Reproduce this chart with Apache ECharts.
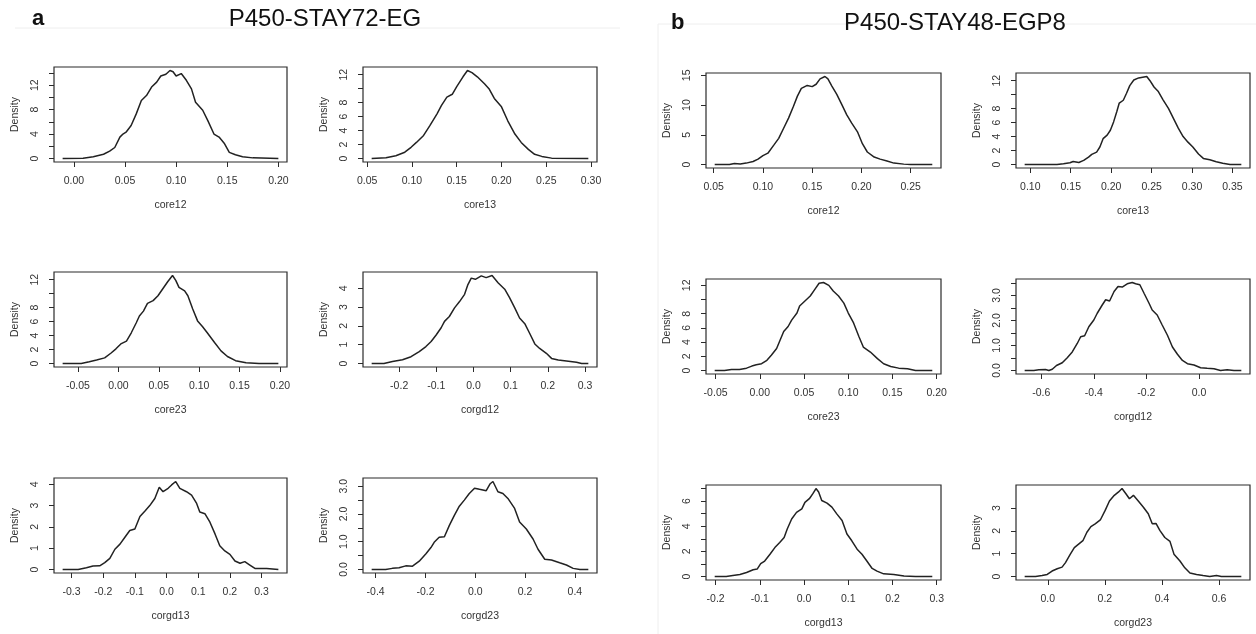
<!DOCTYPE html>
<html><head><meta charset="utf-8">
<script src="https://cdn.jsdelivr.net/npm/echarts@6/dist/echarts.min.js"></script>
<style>html,body{margin:0;padding:0;background:#fff}#c{width:1256px;height:634px}</style>
</head><body><div id="c"></div>
<script>
// ---------- DATA ----------
const panelTitles = ["P450-STAY72-EG", "P450-STAY48-EGP8"];
const panelLetters = ["a", "b"];
const variableNames = ["core12", "core13", "core23", "corgd12", "corgd13", "corgd23"];

// Panel a: P450-STAY72-EG
const aCore12 = [[-0.011,0],[0.009,0.05],[0.019,0.3],[0.029,0.7],[0.035,1.2],[0.040,1.8],[0.045,3.5],[0.048,4.0],[0.051,4.3],[0.056,5.4],[0.061,7.3],[0.066,9.5],[0.071,10.3],[0.076,11.7],[0.081,12.5],[0.085,13.5],[0.090,13.8],[0.094,14.4],[0.097,14.2],[0.100,13.5],[0.105,13.9],[0.110,12.8],[0.115,11.4],[0.119,9.2],[0.126,7.9],[0.131,6.2],[0.137,4.0],[0.142,3.5],[0.147,2.5],[0.152,1.0],[0.158,0.6],[0.165,0.3],[0.175,0.1],[0.200,0]];
const aCore13 = [[0.055,0],[0.071,0.1],[0.082,0.4],[0.092,0.9],[0.099,1.6],[0.105,2.3],[0.113,3.3],[0.120,4.7],[0.128,6.4],[0.133,7.6],[0.139,8.8],[0.145,9.2],[0.150,10.3],[0.157,11.7],[0.162,12.6],[0.167,12.3],[0.173,11.7],[0.181,10.7],[0.186,10.0],[0.192,8.6],[0.200,7.4],[0.207,5.4],[0.215,3.5],[0.222,2.3],[0.230,1.3],[0.237,0.6],[0.245,0.3],[0.256,0.05],[0.297,0]];
const aCore23 = [[-0.069,0],[-0.046,0],[-0.036,0.25],[-0.027,0.5],[-0.017,0.8],[-0.009,1.5],[-0.003,2.1],[0.003,2.8],[0.010,3.2],[0.016,4.4],[0.022,5.8],[0.026,6.8],[0.031,7.5],[0.036,8.6],[0.043,9.0],[0.049,9.7],[0.055,10.7],[0.061,11.7],[0.067,12.6],[0.071,11.9],[0.075,10.9],[0.082,10.4],[0.086,9.7],[0.092,7.8],[0.098,6.1],[0.104,5.3],[0.110,4.4],[0.119,3.0],[0.127,1.8],[0.135,1.0],[0.145,0.4],[0.158,0.1],[0.174,0],[0.198,0]];
const aCorgd12 = [[-0.274,0],[-0.241,0],[-0.218,0.1],[-0.191,0.2],[-0.168,0.36],[-0.146,0.63],[-0.128,0.9],[-0.114,1.17],[-0.101,1.5],[-0.087,1.9],[-0.078,2.24],[-0.065,2.5],[-0.051,2.96],[-0.038,3.28],[-0.024,3.68],[-0.015,4.2],[-0.006,4.54],[0.005,4.48],[0.021,4.66],[0.034,4.57],[0.050,4.68],[0.066,4.3],[0.084,3.95],[0.097,3.5],[0.111,2.96],[0.124,2.42],[0.138,2.12],[0.151,1.61],[0.165,1.04],[0.178,0.8],[0.196,0.54],[0.210,0.27],[0.228,0.18],[0.250,0.13],[0.277,0.07],[0.291,0],[0.309,0]];
const aCorgd13 = [[-0.328,0],[-0.279,0],[-0.253,0.08],[-0.232,0.16],[-0.211,0.17],[-0.195,0.32],[-0.179,0.52],[-0.163,0.95],[-0.147,1.19],[-0.132,1.5],[-0.116,1.83],[-0.100,1.9],[-0.084,2.49],[-0.068,2.75],[-0.053,3.0],[-0.037,3.33],[-0.023,3.86],[-0.011,3.65],[0.005,3.81],[0.016,3.97],[0.029,4.13],[0.042,3.81],[0.063,3.65],[0.079,3.49],[0.095,3.1],[0.105,2.7],[0.121,2.62],[0.137,2.22],[0.153,1.67],[0.168,1.11],[0.184,0.87],[0.200,0.71],[0.216,0.4],[0.232,0.29],[0.247,0.37],[0.263,0.21],[0.279,0.05],[0.316,0.05],[0.353,0]];
const aCorgd23 = [[-0.416,0],[-0.360,0],[-0.333,0.04],[-0.306,0.06],[-0.279,0.13],[-0.252,0.12],[-0.225,0.3],[-0.198,0.57],[-0.178,0.79],[-0.165,0.98],[-0.145,1.16],[-0.124,1.18],[-0.104,1.59],[-0.084,1.95],[-0.064,2.28],[-0.044,2.5],[-0.024,2.74],[-0.003,2.93],[0.017,2.89],[0.044,2.84],[0.060,3.09],[0.071,3.17],[0.091,2.8],[0.111,2.74],[0.131,2.56],[0.158,2.2],[0.178,1.71],[0.205,1.46],[0.232,1.1],[0.252,0.73],[0.279,0.37],[0.306,0.34],[0.339,0.24],[0.366,0.16],[0.393,0.04],[0.420,0],[0.454,0]];

// Panel b: P450-STAY48-EGP8
const bCore12 = [[0.051,0],[0.066,0],[0.071,0.17],[0.077,0.1],[0.083,0.23],[0.090,0.5],[0.095,0.9],[0.100,1.5],[0.105,1.9],[0.111,3.25],[0.116,4.4],[0.121,6.1],[0.126,7.8],[0.131,9.8],[0.135,11.5],[0.139,12.8],[0.145,13.3],[0.150,13.1],[0.154,13.5],[0.158,14.4],[0.163,14.8],[0.166,14.4],[0.170,13.2],[0.175,11.8],[0.180,10.1],[0.185,8.4],[0.190,7.0],[0.196,5.5],[0.201,3.5],[0.206,2.1],[0.213,1.25],[0.219,0.9],[0.226,0.57],[0.233,0.23],[0.243,0.06],[0.250,0],[0.272,0]];
const bCore13 = [[0.093,0],[0.133,0],[0.141,0.1],[0.149,0.24],[0.153,0.43],[0.160,0.29],[0.166,0.58],[0.172,1.06],[0.176,1.45],[0.182,1.78],[0.186,2.5],[0.190,3.7],[0.195,4.2],[0.199,4.9],[0.203,6.1],[0.207,7.6],[0.210,8.8],[0.215,9.2],[0.219,10.2],[0.223,11.3],[0.228,12.1],[0.234,12.4],[0.239,12.5],[0.244,12.6],[0.248,12.0],[0.253,11.1],[0.258,10.5],[0.264,9.3],[0.271,8.0],[0.277,6.6],[0.283,5.2],[0.289,4.0],[0.295,3.2],[0.301,2.5],[0.308,1.5],[0.314,0.87],[0.322,0.67],[0.330,0.39],[0.338,0.19],[0.347,0],[0.361,0]];
const bCore23 = [[-0.051,0],[-0.040,0],[-0.032,0.14],[-0.023,0.14],[-0.015,0.33],[-0.009,0.62],[-0.004,0.81],[0.002,0.95],[0.008,1.43],[0.013,2.14],[0.019,3.1],[0.023,4.3],[0.027,5.5],[0.032,6.2],[0.036,7.1],[0.042,8.1],[0.045,9.1],[0.051,9.8],[0.057,10.5],[0.062,11.4],[0.067,12.3],[0.072,12.4],[0.078,12.0],[0.083,11.2],[0.089,10.5],[0.095,9.5],[0.100,8.1],[0.106,6.7],[0.112,4.8],[0.117,3.3],[0.125,2.6],[0.133,1.67],[0.140,0.95],[0.148,0.57],[0.157,0.33],[0.167,0.24],[0.176,0],[0.195,0]];
const bCorgd12 = [[-0.663,0],[-0.628,0],[-0.609,0.03],[-0.584,0.04],[-0.571,0],[-0.558,0.05],[-0.542,0.2],[-0.520,0.31],[-0.501,0.51],[-0.482,0.74],[-0.463,1.08],[-0.450,1.35],[-0.435,1.39],[-0.419,1.75],[-0.400,2.02],[-0.387,2.29],[-0.368,2.62],[-0.355,2.83],[-0.340,2.78],[-0.323,3.16],[-0.308,3.36],[-0.292,3.34],[-0.273,3.47],[-0.254,3.52],[-0.241,3.47],[-0.225,3.43],[-0.209,3.09],[-0.190,2.69],[-0.178,2.42],[-0.159,2.22],[-0.140,1.82],[-0.120,1.41],[-0.101,0.94],[-0.082,0.65],[-0.063,0.4],[-0.044,0.27],[-0.019,0.22],[0.006,0.11],[0.031,0.09],[0.057,0.07],[0.082,0],[0.107,0.03],[0.133,0],[0.161,0]];
const bCorgd13 = [[-0.202,0],[-0.176,0],[-0.161,0.08],[-0.145,0.16],[-0.130,0.32],[-0.115,0.54],[-0.106,0.59],[-0.098,1.02],[-0.089,1.23],[-0.077,1.77],[-0.066,2.3],[-0.055,2.7],[-0.045,3.1],[-0.038,3.78],[-0.028,4.58],[-0.017,5.1],[-0.005,5.38],[0.002,5.9],[0.012,6.19],[0.020,6.59],[0.027,7.0],[0.033,6.72],[0.040,6.05],[0.052,5.84],[0.063,5.52],[0.074,4.98],[0.086,4.45],[0.097,3.38],[0.108,2.84],[0.120,2.17],[0.131,1.77],[0.142,1.23],[0.154,0.64],[0.165,0.43],[0.180,0.21],[0.203,0.16],[0.226,0.03],[0.252,0],[0.290,0]];
const bCorgd23 = [[-0.081,0],[-0.043,0],[-0.020,0.04],[-0.002,0.09],[0.015,0.24],[0.033,0.34],[0.050,0.41],[0.062,0.61],[0.079,0.98],[0.093,1.27],[0.108,1.42],[0.123,1.57],[0.137,1.94],[0.151,2.19],[0.166,2.31],[0.184,2.48],[0.201,2.9],[0.216,3.31],[0.233,3.56],[0.248,3.71],[0.260,3.86],[0.273,3.64],[0.286,3.41],[0.300,3.56],[0.317,3.31],[0.335,3.04],[0.352,2.75],[0.366,2.31],[0.379,2.33],[0.393,2.01],[0.410,1.71],[0.428,1.54],[0.442,0.98],[0.463,0.68],[0.480,0.38],[0.498,0.15],[0.521,0.09],[0.544,0.04],[0.567,0],[0.591,0.04],[0.608,0],[0.678,0]];

// Tick labels (x axes)
const aCore12X = ["0.00","0.05","0.10","0.15","0.20"];
const aCore13X = ["0.05","0.10","0.15","0.20","0.25","0.30"];
const aCore23X = ["-0.05","0.00","0.05","0.10","0.15","0.20"];
const aCorgd12X = ["-0.2","-0.1","0.0","0.1","0.2","0.3"];
const aCorgd13X = ["-0.3","-0.2","-0.1","0.0","0.1","0.2","0.3"];
const aCorgd23X = ["-0.4","-0.2","0.0","0.2","0.4"];
const bCore12X = ["0.05","0.10","0.15","0.20","0.25"];
const bCore13X = ["0.10","0.15","0.20","0.25","0.30","0.35"];
const bCore23X = ["-0.05","0.00","0.05","0.10","0.15","0.20"];
const bCorgd12X = ["-0.6","-0.4","-0.2","0.0"];
const bCorgd13X = ["-0.2","-0.1","0.0","0.1","0.2","0.3"];
const bCorgd23X = ["0.0","0.2","0.4","0.6"];

// Tick marks and tick labels (y axes)
const aCore12YTicks = [0,2,4,6,8,10,12,14];   const aCore12YLabels = ["0","4","8","12"];
const aCore13YTicks = [0,2,4,6,8,10,12];      const aCore13YLabels = ["0","2","4","6","8","12"];
const aCore23YTicks = [0,2,4,6,8,10,12];      const aCore23YLabels = ["0","2","4","6","8","12"];
const aCorgd12YTicks = [0,1,2,3,4];           const aCorgd12YLabels = ["0","1","2","3","4"];
const aCorgd13YTicks = [0,1,2,3,4];           const aCorgd13YLabels = ["0","1","2","3","4"];
const aCorgd23YTicks = [0,0.5,1,1.5,2,2.5,3]; const aCorgd23YLabels = ["0.0","1.0","2.0","3.0"];
const bCore12YTicks = [0,5,10,15];            const bCore12YLabels = ["0","5","10","15"];
const bCore13YTicks = [0,2,4,6,8,10,12];      const bCore13YLabels = ["0","2","4","6","8","12"];
const bCore23YTicks = [0,2,4,6,8,10,12];      const bCore23YLabels = ["0","2","4","6","8","12"];
const bCorgd12YTicks = [0,0.5,1,1.5,2,2.5,3,3.5]; const bCorgd12YLabels = ["0.0","1.0","2.0","3.0"];
const bCorgd13YTicks = [0,1,2,3,4,5,6,7];     const bCorgd13YLabels = ["0","2","4","6"];
const bCorgd23YTicks = [0,1,2,3];             const bCorgd23YLabels = ["0","1","2","3"];

// ---------- LAYOUT ----------
const plots = [
  {p:0,c:0,r:0,name:variableNames[0],data:aCore12,xt:aCore12X,yt:aCore12YTicks,yl:aCore12YLabels},
  {p:0,c:1,r:0,name:variableNames[1],data:aCore13,xt:aCore13X,yt:aCore13YTicks,yl:aCore13YLabels},
  {p:0,c:0,r:1,name:variableNames[2],data:aCore23,xt:aCore23X,yt:aCore23YTicks,yl:aCore23YLabels},
  {p:0,c:1,r:1,name:variableNames[3],data:aCorgd12,xt:aCorgd12X,yt:aCorgd12YTicks,yl:aCorgd12YLabels},
  {p:0,c:0,r:2,name:variableNames[4],data:aCorgd13,xt:aCorgd13X,yt:aCorgd13YTicks,yl:aCorgd13YLabels},
  {p:0,c:1,r:2,name:variableNames[5],data:aCorgd23,xt:aCorgd23X,yt:aCorgd23YTicks,yl:aCorgd23YLabels},
  {p:1,c:0,r:0,name:variableNames[0],data:bCore12,xt:bCore12X,yt:bCore12YTicks,yl:bCore12YLabels},
  {p:1,c:1,r:0,name:variableNames[1],data:bCore13,xt:bCore13X,yt:bCore13YTicks,yl:bCore13YLabels},
  {p:1,c:0,r:1,name:variableNames[2],data:bCore23,xt:bCore23X,yt:bCore23YTicks,yl:bCore23YLabels},
  {p:1,c:1,r:1,name:variableNames[3],data:bCorgd12,xt:bCorgd12X,yt:bCorgd12YTicks,yl:bCorgd12YLabels},
  {p:1,c:0,r:2,name:variableNames[4],data:bCorgd13,xt:bCorgd13X,yt:bCorgd13YTicks,yl:bCorgd13YLabels},
  {p:1,c:1,r:2,name:variableNames[5],data:bCorgd23,xt:bCorgd23X,yt:bCorgd23YTicks,yl:bCorgd23YLabels}
];
const colLeft = [[54,363],[706,1016]];
const colWidth = [[233,234],[235,234]];
const rowTop = [[67,272,478],[73,279,485]];
const boxH = 95;

const FONT = '"Liberation Sans", Arial, sans-serif';
const TXT = '#333';
const grids = [], xAxes = [], yAxes = [], series = [];

plots.forEach((pl, i) => {
  const xs = pl.data.map(d => d[0]), ys = pl.data.map(d => d[1]);
  const x0 = Math.min(...xs), x1 = Math.max(...xs);
  const yPeak = Math.max(...ys);
  const dx = (x1 - x0) * 0.04;          // R default 4% axis extension
  grids.push({left: colLeft[pl.p][pl.c], top: rowTop[pl.p][pl.r], width: colWidth[pl.p][pl.c], height: boxH,
    show: true, borderColor: '#2b2b2b', borderWidth: 1.2, backgroundColor: 'transparent', containLabel: false});
  const xVals = pl.xt.map(parseFloat);
  xAxes.push({type:'value', gridIndex:i, min:x0 - dx, max:x1 + dx, position:'bottom',
    name: pl.name, nameLocation:'middle', nameGap:38,
    nameTextStyle:{fontFamily:FONT, fontSize:10.5, color:TXT},
    axisLine:{show:false, onZero:false}, splitLine:{show:false},
    axisTick:{show:true, length:5, customValues:xVals, lineStyle:{color:'#2b2b2b', width:1}},
    axisLabel:{show:true, customValues:xVals, margin:14, fontFamily:FONT, fontSize:10.5, color:TXT,
      formatter: v => { const k = xVals.findIndex(t => Math.abs(t - v) < 1e-9); return k >= 0 ? pl.xt[k] : ''; }}
  });
  const yLabVals = pl.yl.map(parseFloat);
  yAxes.push({type:'value', gridIndex:i, min:-0.04*yPeak, max:1.04*yPeak, position:'left',
    name:'Density', nameLocation:'middle', nameGap:33, nameRotate:90,
    nameTextStyle:{fontFamily:FONT, fontSize:10.5, color:TXT},
    axisLine:{show:false, onZero:false}, splitLine:{show:false},
    axisTick:{show:true, length:5, customValues:pl.yt, lineStyle:{color:'#2b2b2b', width:1}},
    axisLabel:{show:true, customValues:yLabVals, rotate:90, margin:13, fontFamily:FONT, fontSize:10.5, color:TXT,
      formatter: v => { const k = yLabVals.findIndex(t => Math.abs(t - v) < 1e-9); return k >= 0 ? pl.yl[k] : ''; }}
  });
  series.push({type:'line', xAxisIndex:i, yAxisIndex:i, data:pl.data, showSymbol:false, symbol:'none',
    lineStyle:{color:'#222', width:1.5}, silent:true, animation:false});
});

const graphic = [
  {type:'line', shape:{x1:15,y1:28,x2:620,y2:28}, style:{stroke:'#eeeeee', lineWidth:1}, silent:true},
  {type:'line', shape:{x1:658,y1:24,x2:1256,y2:24}, style:{stroke:'#eeeeee', lineWidth:1}, silent:true},
  {type:'line', shape:{x1:658,y1:24,x2:658,y2:634}, style:{stroke:'#eeeeee', lineWidth:1}, silent:true},
  {type:'text', x:32, y:19, style:{text:panelLetters[0], font:'bold 22px ' + FONT, fill:'#111', align:'left', verticalAlign:'middle'}},
  {type:'text', x:325, y:19, style:{text:panelTitles[0], font:'24px ' + FONT, fill:'#111', align:'center', verticalAlign:'middle'}},
  {type:'text', x:671, y:23, style:{text:panelLetters[1], font:'bold 22px ' + FONT, fill:'#111', align:'left', verticalAlign:'middle'}},
  {type:'text', x:955, y:23, style:{text:panelTitles[1], font:'24px ' + FONT, fill:'#111', align:'center', verticalAlign:'middle'}}
];

const chart = echarts.init(document.getElementById('c'), null, {renderer:'canvas'});
chart.setOption({animation:false, backgroundColor:'#fff', grid:grids, xAxis:xAxes, yAxis:yAxes, series:series, graphic:graphic});
</script>
</body></html>
